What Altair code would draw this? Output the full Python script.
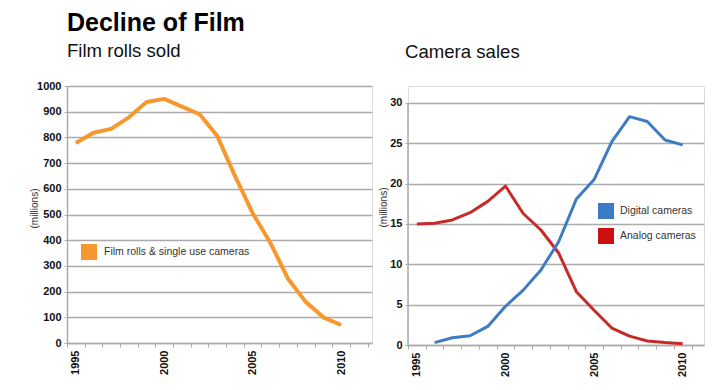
import altair as alt
import pandas as pd

# ---- data ----
film_years = list(range(1995, 2011))
film_rolls = [778, 818, 833, 878, 938, 950, 920, 890, 805, 650, 505, 390, 250, 160, 100, 70]

digital_years = list(range(1996, 2011))
digital = [0.3, 0.9, 1.15, 2.3, 4.8, 6.8, 9.3, 12.8, 18.1, 20.5, 25.2, 28.3, 27.7, 25.4, 24.8]

analog_years = list(range(1995, 2011))
analog = [15.0, 15.1, 15.5, 16.4, 17.8, 19.7, 16.3, 14.25, 11.4, 6.6, 4.3, 2.1, 1.1, 0.5, 0.3, 0.15]

film_ticks = [0, 100, 200, 300, 400, 500, 600, 700, 800, 900, 1000]
camera_ticks = [0, 5, 10, 15, 20, 25, 30]
year_boundaries = [y - 0.5 for y in range(1995, 2013)]

FONT = "Liberation Sans"
ORANGE = "#F7982F"
BLUE = "#3F7BC4"
RED = "#C62B28"
GRID = "#ABABAB"

film_df = pd.DataFrame({"year": film_years, "value": film_rolls,
                        "series": ["Film rolls & single use cameras"] * len(film_years)})
digital_df = pd.DataFrame({"year": digital_years, "value": digital,
                           "series": ["Digital cameras"] * len(digital_years)})
analog_df = pd.DataFrame({"year": analog_years, "value": analog,
                          "series": ["Analog cameras"] * len(analog_years)})
cam_df = pd.concat([digital_df, analog_df], ignore_index=True)

BAND = 17.7
label_expr = "datum.value % 5 == 4.5 ? '' + (datum.value + 0.5) : ''"


def x_axis():
    return alt.Axis(values=year_boundaries, labelExpr=label_expr, labelOffset=BAND / 2,
                    labelAngle=270, labelAlign="right", labelBaseline="middle",
                    labelFont=FONT, labelFontSize=11, labelFontWeight="bold", labelColor="#111",
                    labelPadding=3, tickSize=4, tickColor=GRID, domainColor=GRID,
                    domainWidth=1.5, grid=False, title=None, labelOverlap=False)


# ---------------- left chart ----------------
left_x = alt.X("year:Q", scale=alt.Scale(domain=[1994.5, 2011.75], nice=False, zero=False),
               axis=x_axis())
left_y = alt.Y("value:Q", scale=alt.Scale(domain=[0, 1000], nice=False),
               axis=alt.Axis(values=film_ticks, format="d", title="(millions)",
                             titleFont=FONT, titleFontSize=10, titleFontWeight="normal",
                             titleColor="#333", titleX=-33, titleY=122, titleAngle=270,
                             titleAlign="center", titleBaseline="middle",
                             labelFont=FONT, labelFontSize=11, labelFontWeight="bold",
                             labelColor="#111", labelPadding=3, tickSize=3, tickColor=GRID,
                             domainColor=GRID, domainWidth=1.5, gridColor=GRID, gridWidth=1.5))

film_line = alt.Chart(film_df).mark_line(strokeWidth=4, color=ORANGE, strokeJoin="round").encode(
    x=left_x, y=left_y)
film_leg = alt.Chart(film_df).mark_point(filled=True, shape="square", size=0, opacity=1).encode(
    x=left_x, y=left_y,
    color=alt.Color("series:N", scale=alt.Scale(range=[ORANGE]),
                    legend=alt.Legend(title=None, orient="none", legendX=14, legendY=158,
                                      symbolType="square", symbolSize=256, symbolStrokeWidth=0,
                                      labelFont=FONT, labelFontSize=10.5, labelColor="#333",
                                      labelOffset=7, padding=0)))

left = alt.layer(film_line, film_leg).properties(
    width=305, height=257,
    title=alt.TitleParams("Film rolls sold", anchor="start", frame="group", font=FONT,
                          fontSize=18.6, fontWeight="normal", color="#111", offset=19))

# ---------------- right chart ----------------
right_x = alt.X("year:Q", scale=alt.Scale(domain=[1994.5, 2011.2], nice=False, zero=False),
                axis=x_axis())
right_y = alt.Y("value:Q", scale=alt.Scale(domain=[0, 32.1], nice=False),
                axis=alt.Axis(values=camera_ticks, format="d", title="(millions)",
                              titleFont=FONT, titleFontSize=10, titleFontWeight="normal",
                              titleColor="#333", titleX=-25, titleY=121, titleAngle=270,
                              titleAlign="center", titleBaseline="middle",
                              labelFont=FONT, labelFontSize=11, labelFontWeight="bold",
                              labelColor="#111", labelPadding=3, tickSize=3, tickColor=GRID,
                              domain=False, gridColor=GRID, gridWidth=1.5))

cam_domain = ["Digital cameras", "Analog cameras"]
digital_line = alt.Chart(digital_df).mark_line(strokeWidth=3, color=BLUE, strokeJoin="round").encode(
    x=right_x, y=right_y)
analog_line = alt.Chart(analog_df).mark_line(strokeWidth=3, color=RED, strokeJoin="round").encode(
    x=right_x, y=right_y)
cam_leg = alt.Chart(cam_df).mark_point(filled=True, shape="square", size=0, opacity=1).encode(
    x=right_x, y=right_y,
    color=alt.Color("series:N", scale=alt.Scale(domain=cam_domain, range=["#3B7AC7", "#CC1010"]),
                    legend=alt.Legend(title=None, orient="none", legendX=190, legendY=117,
                                      symbolType="square", symbolSize=256, symbolStrokeWidth=0,
                                      labelFont=FONT, labelFontSize=10.5, labelColor="#333",
                                      labelOffset=6, rowPadding=9, padding=0)))
y_domain_line = alt.Chart(pd.DataFrame({"lo": [0], "hi": [30]})).mark_rule(
    color=GRID, strokeWidth=1.5).encode(x=alt.value(0), y=alt.Y("lo:Q"), y2="hi:Q")

right = alt.layer(y_domain_line, analog_line, digital_line, cam_leg).properties(
    width=296, height=259,
    title=alt.TitleParams("Camera sales", anchor="start", frame="group", font=FONT,
                          fontSize=18.6, fontWeight="normal", color="#111", offset=24, dx=-3))

chart = alt.hconcat(left, right, spacing=36, bounds="flush").properties(
    title=alt.TitleParams("Decline of Film", anchor="start", frame="group", font=FONT,
                          fontSize=25, fontWeight="bold", color="#000", offset=6),
    padding={"left": 20, "top": 2, "right": 5, "bottom": 5},
).resolve_scale(color="independent").configure_view(stroke=None).configure(
    background="white")

chart.save("out.html", embed_options={"renderer": "svg", "actions": False})
